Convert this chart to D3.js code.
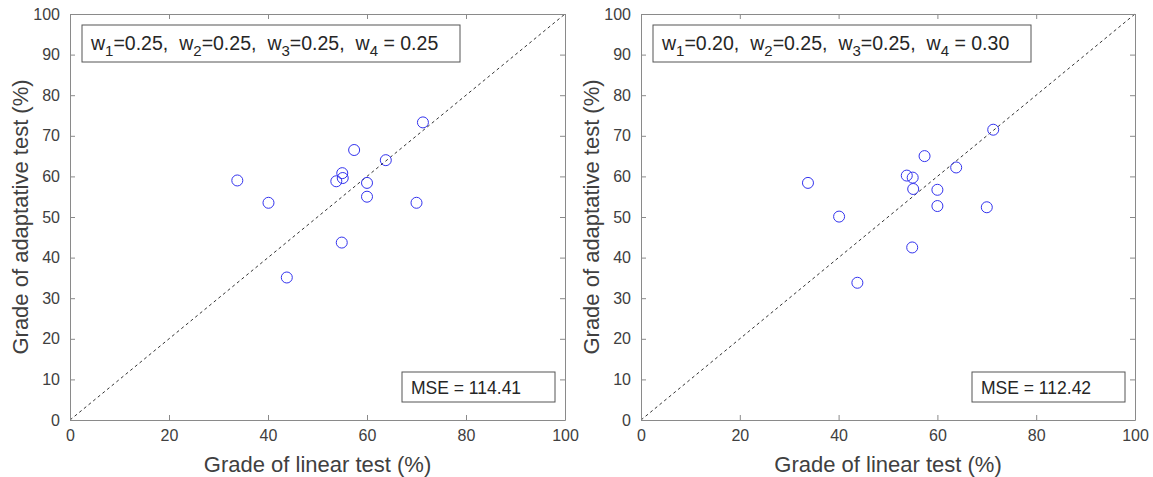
<!DOCTYPE html>
<html>
<head>
<meta charset="utf-8">
<script src="https://cdn.jsdelivr.net/npm/d3@7"></script>
<style>
  body { margin: 0; background: #fff; }
  svg { font-family: "Liberation Sans", Arial, sans-serif; }
</style>
</head>
<body>
<div id="chart"></div>
<script>
// grades of the linear test, shared by both panels
const linearGrades = [33.8, 40.1, 43.8, 54.9, 53.8, 55.0, 55.1, 57.4, 60.0, 60.0, 63.8, 70.0, 71.3];
// grades of the adaptative test, for each weighting
const adaptiveA = [59.0, 53.5, 35.1, 43.7, 58.8, 60.8, 59.6, 66.5, 58.4, 55.0, 64.0, 53.5, 73.3];
const adaptiveB = [58.4, 50.1, 33.8, 42.5, 60.2, 59.7, 56.9, 65.0, 56.7, 52.7, 62.2, 52.4, 71.5];
const weightsA = ["0.25", "0.25", "0.25", "0.25"];
const weightsB = ["0.20", "0.25", "0.25", "0.30"];
const mseA = "114.41";
const mseB = "112.42";
const xTicks = [0, 20, 40, 60, 80, 100];
const yTicks = [0, 10, 20, 30, 40, 50, 60, 70, 80, 90, 100];

const W = 1153, H = 477;
const svg = d3.select("#chart").append("svg").attr("width", W).attr("height", H);

const panels = [
  { left: 70, right: 565, adaptive: adaptiveA, weights: weightsA, mse: mseA },
  { left: 641, right: 1135, adaptive: adaptiveB, weights: weightsB, mse: mseB }
];
const plotTop = 14, plotBottom = 420;
const axisColor = "#8a8a8a", textColor = "#404040";

panels.forEach(p => {
  const x = d3.scaleLinear().domain([0, 100]).range([p.left, p.right]);
  const y = d3.scaleLinear().domain([0, 100]).range([plotBottom, plotTop]);
  const g = svg.append("g");

  // diagonal reference line
  g.append("line")
    .attr("x1", x(0)).attr("y1", y(0))
    .attr("x2", x(100)).attr("y2", y(100))
    .attr("stroke", "#333").attr("stroke-width", 1)
    .attr("stroke-dasharray", "3,3");

  // axes
  const xb = g.append("g").attr("transform", `translate(0,${plotBottom})`)
    .call(d3.axisBottom(x).tickValues(xTicks).tickSizeInner(-5).tickSizeOuter(0).tickPadding(10));
  const xt = g.append("g").attr("transform", `translate(0,${plotTop})`)
    .call(d3.axisTop(x).tickValues(xTicks).tickSizeInner(-5).tickSizeOuter(0).tickFormat(""));
  const yl = g.append("g").attr("transform", `translate(${p.left},0)`)
    .call(d3.axisLeft(y).tickValues(yTicks).tickSizeInner(-5).tickSizeOuter(0).tickPadding(10));
  const yr = g.append("g").attr("transform", `translate(${p.right},0)`)
    .call(d3.axisRight(y).tickValues(yTicks).tickSizeInner(-5).tickSizeOuter(0).tickFormat(""));
  [xb, xt, yl, yr].forEach(a => {
    a.selectAll("path, line").attr("stroke", axisColor);
    a.selectAll("text").attr("fill", textColor).style("font-size", "16px");
  });

  // points
  g.selectAll("circle").data(linearGrades).enter().append("circle")
    .attr("cx", d => x(d))
    .attr("cy", (d, i) => y(p.adaptive[i]))
    .attr("r", 5.5)
    .attr("fill", "none")
    .attr("stroke", "#3333ee")
    .attr("stroke-width", 1);

  // axis titles
  g.append("text")
    .attr("x", (p.left + p.right) / 2).attr("y", 472)
    .attr("text-anchor", "middle").attr("fill", textColor)
    .style("font-size", "22px")
    .text("Grade of linear test (%)");
  g.append("text")
    .attr("transform", `translate(${p.left - 42},${(plotTop + plotBottom) / 2}) rotate(-90)`)
    .attr("text-anchor", "middle").attr("fill", textColor)
    .style("font-size", "22px")
    .text("Grade of adaptative test (%)");

  // weights box
  const bx = p.left + 12, by = 25;
  g.append("rect").attr("x", bx).attr("y", by).attr("width", 378).attr("height", 37)
    .attr("fill", "#fff").attr("stroke", "#555");
  const t = g.append("text").attr("x", bx + 9).attr("y", by + 25)
    .attr("fill", "#262626").style("font-size", "19.5px");
  p.weights.forEach((w, i) => {
    t.append("tspan").attr("dx", i === 0 ? 0 : 11).text("w");
    t.append("tspan").attr("dy", 6).style("font-size", "15px").text(i + 1);
    const eq = i === 3 ? " = " : "=";
    t.append("tspan").attr("dy", -6).text(eq + w + (i < 3 ? "," : ""));
  });

  // MSE box
  const mw = 153, mx = p.right - 10 - mw, my = 372;
  g.append("rect").attr("x", mx).attr("y", my).attr("width", mw).attr("height", 30)
    .attr("fill", "#fff").attr("stroke", "#555");
  g.append("text").attr("x", mx + 9).attr("y", my + 22)
    .attr("fill", "#262626").style("font-size", "17.5px")
    .text("MSE = " + p.mse);
});
</script>
</body>
</html>
